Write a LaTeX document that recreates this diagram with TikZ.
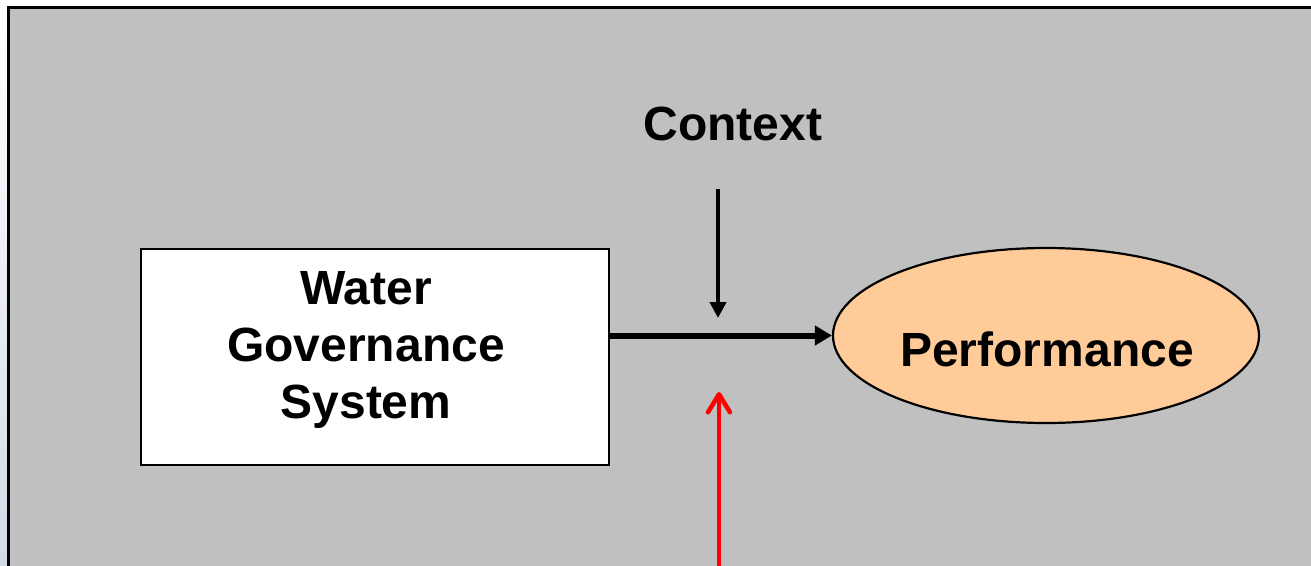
\documentclass[tikz,border=0pt]{standalone}
\usepackage{fontspec}
\setmainfont{Liberation Sans}
\usetikzlibrary{shapes.geometric,arrows.meta}
\definecolor{panelgray}{HTML}{C0C0C0}
\definecolor{peach}{HTML}{FFCC99}
\definecolor{slidetint}{HTML}{D3DAE6}
\tikzset{
  label/.style={font=\fontsize{48}{57}\selectfont\bfseries, align=center, inner sep=0pt},
  govbox/.style={draw=black, line width=2.4pt, fill=white, minimum width=468pt, minimum height=216pt, inner sep=0pt},
  perfshape/.style={ellipse, draw=black, line width=2.2pt, fill=peach, minimum width=426pt, minimum height=175pt, inner sep=0pt},
  mainflow/.style={line width=6pt, -{Triangle[length=17pt,width=19pt]}},
  ctxflow/.style={line width=4pt, -{Triangle[length=16pt,width=16pt]}},
  redflow/.style={red, line width=4.5pt, -{Straight Barb[length=18pt,width=22pt,round]}}
}
\begin{document}
\begin{tikzpicture}[x=1pt,y=-1pt]
  \useasboundingbox (0,0) rectangle (1311,565);
  % slide backdrop and grey panel
  \shade[top color=white, bottom color=slidetint] (0,0) rectangle (1311,565);
  \filldraw[fill=panelgray, draw=black, line width=3.2pt] (8.5,7.5) rectangle (1340,600);

  % nodes
  \node[govbox] (wgs) at (375,357) {};
  \node[label] (wgstext) at (366,350) {Water\\Governance\\System};
  \node[perfshape] (perf) at (1046,335.5) {};
  \node[label, anchor=base] (perftext) at (1047,366) {Performance};
  \node[label, anchor=base] (ctx) at (733,140) {Context};

  % connector end points
  \coordinate (ctxtop) at (718,189);
  \coordinate (ctxtip) at (718,318);
  \coordinate (redfoot) at (719,575);
  \coordinate (redtip) at (719,392);

  % connectors
  \draw[mainflow] (wgs.east |- perf.west) -- (perf.west);
  \draw[ctxflow] (ctxtop) -- (ctxtip);
  \draw[redflow] (redfoot) -- (redtip);
\end{tikzpicture}
\end{document}
